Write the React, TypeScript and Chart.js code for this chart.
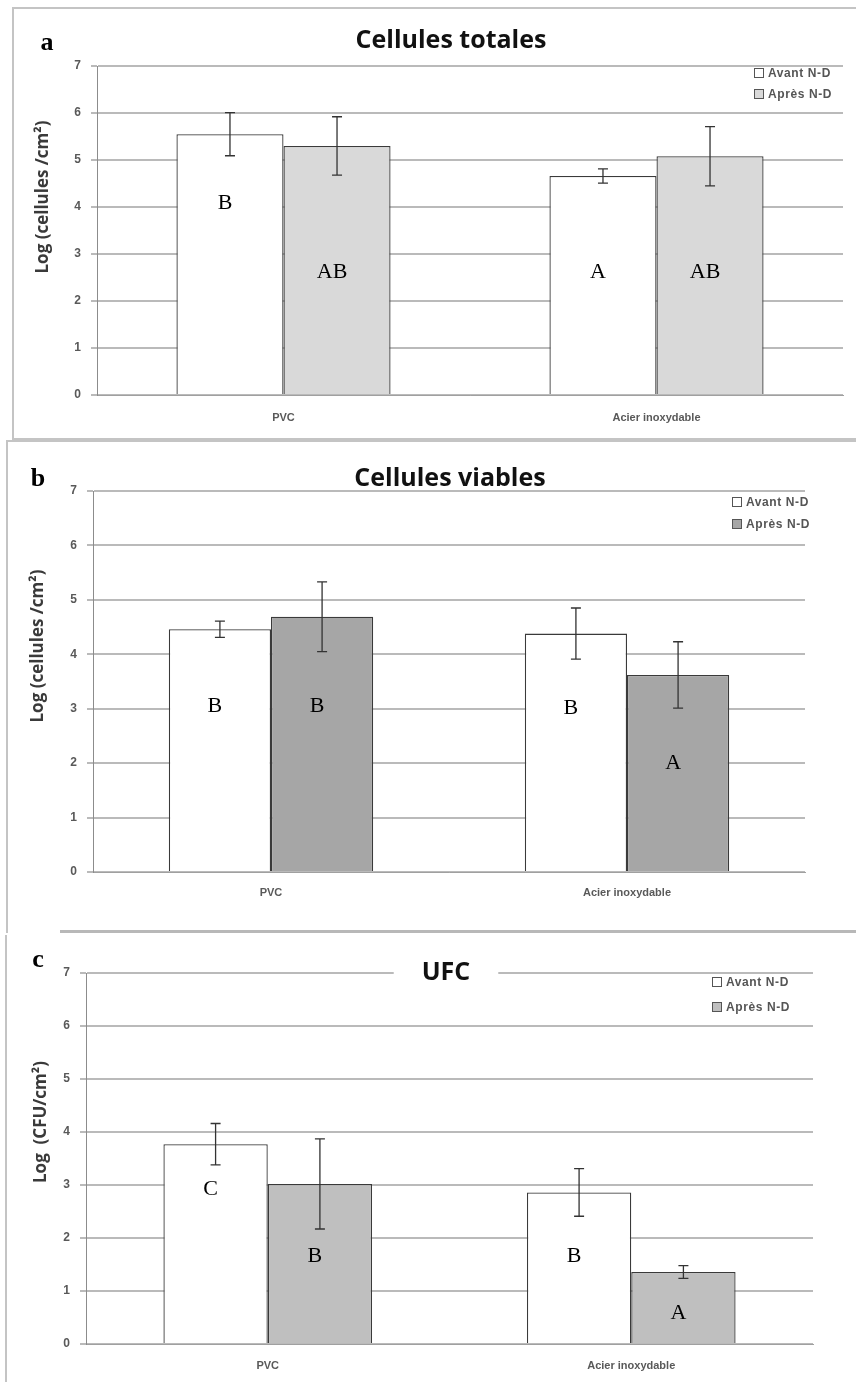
import React, { useEffect, useRef } from 'react';
import { Chart, registerables } from 'chart.js';

Chart.register(...registerables);

// ---------- data ----------
const categories = ['PVC', 'Acier inoxydable'];
const seriesNames = ['Avant N-D', 'Après N-D'];
const yTicks = [0, 1, 2, 3, 4, 5, 6, 7];

// a : Cellules totales
const totalesAvant = [5.55, 4.66];
const totalesAvantErr = [0.46, 0.15];
const totalesApres = [5.3, 5.08];
const totalesApresErr = [0.62, 0.63];
const totalesAvantLetters = ['B', 'A'];
const totalesApresLetters = ['AB', 'AB'];
const totalesAvantLetterAt = [4.08, 2.62];
const totalesApresLetterAt = [2.62, 2.62];

// b : Cellules viables
const viablesAvant = [4.46, 4.38];
const viablesAvantErr = [0.15, 0.47];
const viablesApres = [4.69, 3.62];
const viablesApresErr = [0.64, 0.61];
const viablesAvantLetters = ['B', 'B'];
const viablesApresLetters = ['B', 'A'];
const viablesAvantLetterAt = [3.05, 3.0];
const viablesApresLetterAt = [3.05, 2.0];

// c : UFC
const ufcAvant = [3.77, 2.86];
const ufcAvantErr = [0.39, 0.45];
const ufcApres = [3.02, 1.36];
const ufcApresErr = [0.85, 0.12];
const ufcAvantLetters = ['C', 'B'];
const ufcApresLetters = ['B', 'A'];
const ufcAvantLetterAt = [2.92, 1.66];
const ufcApresLetterAt = [1.66, 0.58];

// ---------- layout / style ----------
const W = 856;
const panels = [
  {
    id: 'a',
    canvasTop: 0, canvasHeight: 438,
    area: { left: 97, right: 843, top: 66, bottom: 395 },
    title: 'Cellules totales', titleX: 451, titleY: 41, titleBg: false,
    letter: 'a', letterX: 47, letterY: 43,
    yTitle: 'Log (cellules /cm²)', yTitleX: 43, yTitleY: 197,
    legendX: 754, legendY: 73, legendGap: 21,
    xPad: 16,
    apresColor: '#d9d9d9',
    avant: totalesAvant, avantErr: totalesAvantErr, apres: totalesApres, apresErr: totalesApresErr,
    avantLetters: totalesAvantLetters, apresLetters: totalesApresLetters,
    avantLetterAt: totalesAvantLetterAt, apresLetterAt: totalesApresLetterAt,
  },
  {
    id: 'b',
    canvasTop: 440, canvasHeight: 491,
    area: { left: 93, right: 805, top: 491, bottom: 872 },
    title: 'Cellules viables', titleX: 450, titleY: 479, titleBg: false,
    letter: 'b', letterX: 38, letterY: 479,
    yTitle: 'Log (cellules /cm²)', yTitleX: 38, yTitleY: 646,
    legendX: 732, legendY: 502, legendGap: 22,
    xPad: 14,
    apresColor: '#a6a6a6',
    avant: viablesAvant, avantErr: viablesAvantErr, apres: viablesApres, apresErr: viablesApresErr,
    avantLetters: viablesAvantLetters, apresLetters: viablesApresLetters,
    avantLetterAt: viablesAvantLetterAt, apresLetterAt: viablesApresLetterAt,
  },
  {
    id: 'c',
    canvasTop: 931, canvasHeight: 451,
    area: { left: 86, right: 813, top: 973, bottom: 1344 },
    title: 'UFC', titleX: 446, titleY: 973, titleBg: true,
    letter: 'c', letterX: 38, letterY: 960,
    yTitle: 'Log  (CFU/cm²)', yTitleX: 41, yTitleY: 1122,
    legendX: 712, legendY: 982, legendGap: 25,
    xPad: 15,
    apresColor: '#bfbfbf',
    avant: ufcAvant, avantErr: ufcAvantErr, apres: ufcApres, apresErr: ufcApresErr,
    avantLetters: ufcAvantLetters, apresLetters: ufcApresLetters,
    avantLetterAt: ufcAvantLetterAt, apresLetterAt: ufcApresLetterAt,
  },
];

const decorPlugin = {
  id: 'decor',
  afterDatasetsDraw(chart: any) {
    const ctx = chart.ctx;
    const y = chart.scales.y;
    chart.data.datasets.forEach((ds: any, di: number) => {
      const meta = chart.getDatasetMeta(di);
      meta.data.forEach((bar: any, i: number) => {
        const v = ds.data[i];
        const e = ds.errors[i];
        const top = y.getPixelForValue(v + e);
        const bot = y.getPixelForValue(v - e);
        ctx.save();
        ctx.strokeStyle = '#333333';
        ctx.lineWidth = 1.3;
        ctx.beginPath();
        ctx.moveTo(bar.x, top); ctx.lineTo(bar.x, bot);
        ctx.moveTo(bar.x - 5, top); ctx.lineTo(bar.x + 5, top);
        ctx.moveTo(bar.x - 5, bot); ctx.lineTo(bar.x + 5, bot);
        ctx.stroke();
        ctx.fillStyle = '#000';
        ctx.font = '22px "Liberation Serif", "Times New Roman", serif';
        ctx.textAlign = 'center';
        ctx.textBaseline = 'middle';
        ctx.fillText(ds.letters[i], bar.x - 5, y.getPixelForValue(ds.letterAt[i]));
        ctx.restore();
      });
    });
  },
  afterDraw(chart: any, _args: any, opts: any) {
    const p = opts.spec;
    const ctx = chart.ctx;
    const oy = p.canvasTop;
    ctx.save();
    // title
    ctx.font = 'bold 25px "Open Sans", "Liberation Sans", sans-serif';
    ctx.textAlign = 'center';
    ctx.textBaseline = 'middle';
    if (p.titleBg) {
      const w = ctx.measureText(p.title).width + 56;
      ctx.fillStyle = '#ffffff';
      ctx.fillRect(p.titleX - w / 2, p.titleY - oy - 16, w, 32);
    }
    ctx.fillStyle = '#111';
    ctx.fillText(p.title, p.titleX, p.titleY - oy);
    // panel letter
    ctx.font = 'bold 26px "Liberation Serif", "Times New Roman", serif';
    ctx.fillStyle = '#000';
    ctx.fillText(p.letter, p.letterX, p.letterY - oy);
    // y title
    ctx.save();
    ctx.translate(p.yTitleX, p.yTitleY - oy);
    ctx.rotate(-Math.PI / 2);
    ctx.font = 'bold 17px "Open Sans", "Liberation Sans", sans-serif';
    ctx.fillStyle = '#3a3a3a';
    ctx.fillText(p.yTitle, 0, 0);
    ctx.restore();
    // legend
    ctx.font = 'bold 12px "Liberation Sans", sans-serif';
    (ctx as any).letterSpacing = '0.6px';
    ctx.textAlign = 'left';
    chart.data.datasets.forEach((ds: any, i: number) => {
      const cy = p.legendY - oy + i * p.legendGap;
      ctx.fillStyle = ds.backgroundColor;
      ctx.fillRect(p.legendX, cy - 5, 10, 10);
      ctx.strokeStyle = '#555';
      ctx.lineWidth = 1;
      ctx.strokeRect(p.legendX + 0.5, cy - 4.5, 9, 9);
      ctx.fillStyle = '#555';
      ctx.fillText(ds.label, p.legendX + 14, cy + 1);
    });
    ctx.restore();
  },
};

function buildConfig(p: any): any {
  const tickFont = { family: '"Liberation Sans", sans-serif', size: 11, weight: 'bold' as const };
  const yTickFont = { family: '"Liberation Sans", sans-serif', size: 12, weight: 'bold' as const };
  return {
    type: 'bar',
    data: {
      labels: categories,
      datasets: [
        {
          label: seriesNames[0], data: p.avant, errors: p.avantErr,
          letters: p.avantLetters, letterAt: p.avantLetterAt,
          backgroundColor: '#ffffff', borderColor: '#3a3a3a', borderWidth: 1.3,
          categoryPercentage: 0.574, barPercentage: 1,
        },
        {
          label: seriesNames[1], data: p.apres, errors: p.apresErr,
          letters: p.apresLetters, letterAt: p.apresLetterAt,
          backgroundColor: p.apresColor, borderColor: '#3a3a3a', borderWidth: 1.3,
          categoryPercentage: 0.574, barPercentage: 1,
        },
      ],
    },
    options: {
      responsive: false,
      animation: false,
      devicePixelRatio: 1,
      layout: { padding: { left: 0, right: W - p.area.right, top: p.area.top - p.canvasTop, bottom: 0 } },
      plugins: {
        legend: { display: false },
        title: { display: false },
        tooltip: { enabled: false },
        decor: { spec: p },
      },
      scales: {
        x: {
          grid: { display: false, drawTicks: false },
          border: { display: true, color: '#a0a0a0', width: 1 },
          ticks: { padding: p.xPad, color: '#595959', font: tickFont },
          afterFit(s: any) {
            s.height = p.canvasTop + p.canvasHeight - p.area.bottom;
            s.paddingLeft = 0; s.paddingRight = 0;
          },
        },
        y: {
          min: 0, max: 7,
          afterBuildTicks(s: any) { s.ticks = yTicks.map((v) => ({ value: v })); },
          ticks: { padding: 10, color: '#595959', font: yTickFont },
          grid: { color: '#bababa', lineWidth: 2, tickLength: 6 },
          border: { color: '#8c8c8c', width: 1 },
          afterFit(s: any) {
            s.width = p.area.left;
            s.paddingTop = 0; s.paddingBottom = 0;
          },
        },
      },
    },
    plugins: [decorPlugin],
  };
}

export default function App() {
  const r0 = useRef<HTMLCanvasElement>(null);
  const r1 = useRef<HTMLCanvasElement>(null);
  const r2 = useRef<HTMLCanvasElement>(null);
  const refs = [r0, r1, r2];

  useEffect(() => {
    const charts = panels.map((p, i) => new Chart(refs[i].current as HTMLCanvasElement, buildConfig(p)));
    return () => charts.forEach((c) => c.destroy());
  }, []);

  const frame = '#c4c4c4';
  return (
    <div style={{ position: 'absolute', left: 0, top: 0, width: W, height: 1382, background: '#fff', overflow: 'hidden' }}>
      {/* panel frames */}
      <div style={{ position: 'absolute', left: 12, top: 7, width: W, height: 429, borderTop: `2px solid ${frame}`, borderLeft: `2px solid ${frame}`, borderBottom: `2px solid ${frame}` }} />
      <div style={{ position: 'absolute', left: 6, top: 440, width: W, height: 491, borderTop: `2px solid ${frame}`, borderLeft: `2px solid ${frame}` }} />
      <div style={{ position: 'absolute', left: 60, top: 930, width: W, height: 0, borderTop: `3px solid #b8b8b8` }} />
      <div style={{ position: 'absolute', left: 5, top: 935, width: 0, height: 447, borderLeft: `2px solid ${frame}` }} />
      {panels.map((p, i) => (
        <canvas
          key={p.id}
          ref={refs[i]}
          width={W}
          height={p.canvasHeight}
          style={{ position: 'absolute', left: 0, top: p.canvasTop, width: W, height: p.canvasHeight }}
        />
      ))}
    </div>
  );
}
